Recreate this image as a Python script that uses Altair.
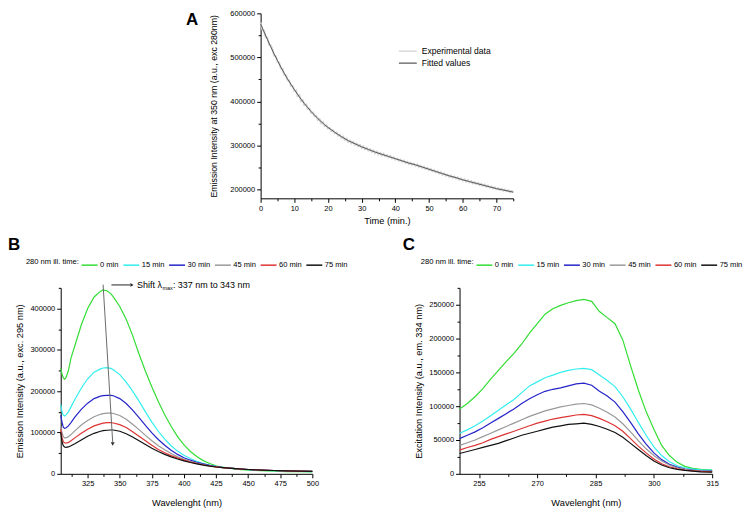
import altair as alt
import pandas as pd

FONT = "Liberation Sans"
TICK_FS = 7.5
TITLE_FS = 9.3

# ---------------- Panel A data (values in thousands) ----------------
fit_t = [0, 1, 2, 3, 4, 5, 6, 7, 8, 9, 10, 11, 12, 13, 14, 15, 16, 17, 18, 19, 20,
         22, 24, 26, 28, 30, 32, 34, 36, 38, 40, 42, 44, 46, 48, 50, 52, 54, 56, 58,
         60, 62, 64, 66, 68, 70, 72, 75]
fit_k = [576, 558, 541, 524, 508, 493, 478, 464, 451, 439, 427, 416, 405, 395, 386, 377,
         369, 361, 354, 347, 341, 330, 320, 311, 304, 297, 291, 285, 280, 275, 270, 265,
         260, 256, 251, 246, 241, 236, 231, 227, 222, 218, 214, 210, 206, 202, 199, 194]

exp_t = [i / 2 for i in range(151)]
exp_k = [579, 563, 561, 546, 544, 529, 527, 519, 504, 503,
         490, 488, 475, 474, 461, 460, 448, 447, 436, 435,
         424, 425, 412, 414, 401, 403, 392, 393, 383, 384,
         374, 375, 366, 367, 358, 360, 351, 353, 344.5, 346,
         338.5, 340, 333, 335, 327.5, 329.5, 322.5, 324.5, 317.5, 320,
         313, 315.5, 308.5, 311, 305, 308, 301.5, 304, 298, 301,
         294.5, 297.5, 291.5, 294.5, 288.5, 291.5, 285.5, 288.5, 282.5, 286,
         280, 283, 277.5, 281, 275.5, 278, 273, 276, 270.5, 273,
         268, 270.5, 265.5, 268, 263, 265.5, 260.5, 263, 258, 261,
         256, 259, 254, 256.5, 251.5, 254, 249, 251.5, 246.5, 249,
         244, 246.5, 241.5, 244, 239, 241.5, 236.5, 239, 234, 236.5,
         231.5, 234, 229, 232, 227, 229.5, 225, 227.5, 222.5, 225,
         220, 223, 218, 221, 216, 219, 214, 217, 212.5, 215,
         210.5, 213, 208.5, 211, 206.5, 209, 204.5, 207, 202.5, 205,
         200.5, 203, 199, 201.5, 197.5, 200, 196, 198.5, 194.5, 196.5,
         193]

# ---------------- Panels B and C (values in thousands) ----------------
series_labels = ["0 min", "15 min", "30 min", "45 min", "60 min", "75 min"]
series_colors = ["#33dd33", "#33eeee", "#2424c8", "#999999", "#dd3333", "#111111"]

B_wl = [304, 305, 306, 307, 308, 310, 312, 315, 320, 325, 330, 335, 337, 340, 343, 345,
        350, 355, 360, 365, 370, 375, 380, 385, 390, 395, 400, 405, 410, 415, 420, 425,
        430, 440, 450, 460, 470, 480, 490, 500]
B_0 = [255, 242, 232, 229, 232, 250, 280, 310, 360, 400, 428, 442, 445, 443, 436, 428,
       405, 374, 335, 290, 248, 210, 175, 143, 115, 90, 70, 54, 42, 32, 25, 19.5,
       16, 11.5, 9, 7.5, 6.5, 5.5, 5, 4.5]
B_15 = [168, 150, 142, 140, 142, 150, 162, 180, 207, 230, 246, 254, 256, 257, 255, 252,
        240, 222, 200, 176, 150, 125, 103, 84, 68, 55, 45, 37, 30, 25, 21, 18,
        15.5, 12.5, 10, 8.5, 7.5, 6.5, 6, 5.5]
B_30 = [142, 125, 113, 110, 111, 116, 124, 137, 156, 171, 182, 188, 189, 190, 190, 189,
        182, 170, 154, 136, 117, 99, 83, 69, 57, 47, 39, 33, 28, 24, 20.5, 17.5,
        15.5, 12.5, 10.5, 9, 8, 7, 6.5, 6]
B_45 = [115, 100, 90, 87, 87, 90, 95, 104, 118, 129, 138, 144, 145.5, 147, 147, 146,
        141, 132, 120, 107, 93, 80, 68, 58, 49, 41, 35, 30, 26, 22.5, 19.5, 17,
        15, 12.5, 10.5, 9, 8, 7, 6.5, 6]
B_60 = [108, 88, 78, 75, 74, 76, 80, 87, 98, 108, 116, 121, 122.5, 124, 124, 123,
        119, 112, 102, 91, 80, 69, 59, 51, 44, 38, 33, 28.5, 25, 22, 19, 17,
        15, 12.5, 10.5, 9, 8, 7, 6.5, 6]
B_75 = [100, 78, 68, 65, 64, 65, 68, 73, 82, 91, 98, 103, 104.5, 105.5, 106, 106,
        103, 97, 89, 80, 71, 62, 54, 47, 41, 36, 31.5, 27.5, 24, 21, 18.5, 16.5,
        15, 12.5, 10.5, 9, 8, 7, 6.5, 6]

C_wl = [250, 252, 254, 256, 258, 260, 262, 264, 266, 268, 270, 272, 274, 276, 278, 280,
        282, 284, 286, 288, 290, 292, 294, 296, 298, 300, 302, 304, 306, 308, 310, 312, 315]
C_0 = [96, 104, 114, 126, 140, 153, 166, 178, 192, 208, 222, 236, 244, 249, 253, 256,
       258, 255, 240, 231, 222, 198, 160, 124, 92, 66, 42, 27, 17, 11, 8, 6.5, 5.5]
C_15 = [60, 65, 71, 78, 86, 94, 102, 110, 120, 130, 136, 142, 146, 150, 153, 155,
        156, 154, 146, 138, 129, 114, 96, 76, 57, 40, 27, 18, 12, 9, 7, 6, 5.5]
C_30 = [52, 57, 62, 68, 75, 82, 89, 96, 104, 111, 117, 122, 125, 127, 130, 133,
        134, 131, 122, 115, 106, 92, 76, 59, 44, 31, 21, 14, 10, 7, 5.5, 4.5, 4]
C_45 = [42, 46, 50, 55, 60, 65, 70, 75, 80, 85, 89, 93, 96, 99, 101, 103,
        104, 102, 97, 91, 84, 74, 62, 49, 37, 27, 19, 13, 9, 6.5, 5, 4, 3.5]
C_60 = [35, 39, 42, 46, 51, 55, 59, 63, 67, 71, 75, 78, 81, 83, 85, 87,
        88, 86, 82, 77, 71, 63, 52, 41, 31, 22, 15, 10.5, 7.5, 5.5, 4.5, 3.5, 3]
C_75 = [30, 33, 36, 39, 42, 45, 49, 53, 57, 60, 63, 66, 69, 71, 73, 74,
        75, 73, 70, 66, 61, 54, 45, 36, 27, 19, 13, 9, 6.5, 5, 4, 3, 2.5]

# annotation in panel B (wavelength, intensity)
shift_arrow = {"wl": [337.0], "val": [458000], "wl2": [344.5], "val2": [76000]}
shift_head = {"wl": [344.5], "val": [72000]}
label_arrow = {"wl": [343.5], "val": [457000], "wl2": [358.0], "val2": [457000]}
label_head = {"wl": [359.5], "val": [457000]}
label_pos = {"wl": [363.5], "val": [457000]}


def make_axis(values, major_test, title, title_pad, title_fs=TITLE_FS):
    return alt.Axis(
        values=values,
        labelExpr=f"({major_test}) ? datum.label : ''",
        tickSize={"condition": {"test": major_test, "value": 4}, "value": 2.5},
        format="d", grid=False,
        domainColor="black", domainWidth=1, tickColor="black", tickWidth=1,
        labelFont=FONT, labelFontSize=TICK_FS, labelColor="black", labelPadding=2,
        labelOverlap=False, labelFlush=False,
        title=title, titleFont=FONT, titleFontSize=title_fs, titleFontWeight="normal",
        titleColor="black", titlePadding=title_pad)


def panel_title(letter, dx, offset, dy=0):
    return alt.TitleParams(letter, anchor="start", frame="group", dx=dx, dy=dy,
                           offset=offset, font=FONT, fontSize=17, fontWeight="bold",
                           color="black")


def series_legend(lx, ly):
    return alt.Legend(title="280 nm ill. time:", orient="none", legendX=lx, legendY=ly,
                      direction="horizontal", titleOrient="left",
                      symbolType="stroke", symbolSize=256, symbolStrokeWidth=1.5,
                      labelFont=FONT, labelFontSize=7.6, labelColor="black",
                      titleFont=FONT, titleFontSize=7.6, titleFontWeight="normal",
                      titleColor="black", columnPadding=1, labelOffset=1.5, titlePadding=1)


# ---------------- Panel A ----------------
dfA_exp = pd.DataFrame({"t": exp_t, "v": [k * 1000 for k in exp_k], "kind": "Experimental data"})
dfA_fit = pd.DataFrame({"t": fit_t, "v": [k * 1000 for k in fit_k], "kind": "Fitted values"})

xA = alt.X("t:Q", scale=alt.Scale(domain=[0, 75], nice=False, zero=False),
           axis=make_axis(list(range(0, 76, 5)), "datum.value % 10 === 0", "Time (min.)", 5))
yA = alt.Y("v:Q", scale=alt.Scale(domain=[180000, 600000], nice=False, zero=False),
           axis=make_axis(list(range(200000, 600001, 50000)), "datum.value % 100000 === 0",
                          "Emission Intensity at 350 nm (a.u., exc 280nm)", 11, 8.8))
colorA = alt.Color("kind:N",
                   scale=alt.Scale(domain=["Experimental data", "Fitted values"],
                                   range=["#d2d2d2", "#5a5a5a"]),
                   legend=alt.Legend(title=None, orient="none", legendX=138, legendY=33,
                                     symbolType="stroke", symbolSize=324, symbolStrokeWidth=1.2,
                                     clipHeight=10, rowPadding=2,
                                     labelFont=FONT, labelFontSize=8.6, labelColor="black",
                                     labelOffset=4))
expA = alt.Chart(dfA_exp).mark_line(strokeWidth=2).encode(x=xA, y=yA, color=colorA)
fitA = alt.Chart(dfA_fit).mark_line(strokeWidth=1).encode(x=xA, y=yA, color=colorA)
chartA = alt.layer(expA, fitA).properties(width=254, height=186,
                                          title=panel_title("A", -75, -20))

# ---------------- Panel B ----------------
rowsB = []
for lab, vals in zip(series_labels, [B_0, B_15, B_30, B_45, B_60, B_75]):
    for w, v in zip(B_wl, vals):
        rowsB.append({"wl": w, "val": v * 1000, "series": lab})
dfB = pd.DataFrame(rowsB)

xB_vals = [312.5, 325, 337.5, 350, 362.5, 375, 387.5, 400, 412.5, 425, 437.5, 450,
           462.5, 475, 487.5, 500]
xB_scale = alt.Scale(domain=[304, 500], nice=False, zero=False)
yB_scale = alt.Scale(domain=[0, 450000], nice=False)
xB_axis = make_axis(xB_vals, "datum.value % 25 === 0", "Wavelenght (nm)", 11)
yB_axis = make_axis(list(range(0, 450001, 50000)), "datum.value % 100000 === 0",
                    "Emission Intensity (a.u., exc. 295 nm)", 5)
xB = alt.X("wl:Q", scale=xB_scale, axis=xB_axis)
yB = alt.Y("val:Q", scale=yB_scale, axis=yB_axis)
linesB = alt.Chart(dfB).mark_line(strokeWidth=1.2).encode(
    x=xB, y=yB,
    color=alt.Color("series:N", sort=series_labels,
                    scale=alt.Scale(domain=series_labels, range=series_colors),
                    legend=series_legend(-35, -32)))

arrowB = alt.Chart(pd.DataFrame(shift_arrow)).mark_rule(color="#6a6a6a", strokeWidth=1).encode(
    x=xB, y=yB, x2="wl2:Q", y2="val2:Q")
headB = alt.Chart(pd.DataFrame(shift_head)).mark_point(
    shape="triangle-down", filled=True, size=16, color="#333333", opacity=1).encode(x=xB, y=yB)
arrow2B = alt.Chart(pd.DataFrame(label_arrow)).mark_rule(color="#222222", strokeWidth=1).encode(
    x=xB, y=yB, x2="wl2:Q", y2="val2:Q")
head2B = alt.Chart(pd.DataFrame(label_head)).mark_point(
    shape="triangle-right", filled=True, size=14, color="#222222", opacity=1).encode(x=xB, y=yB)
dfLab = pd.DataFrame(label_pos)
txt1 = alt.Chart(dfLab).mark_text(align="left", baseline="middle", font=FONT, fontSize=9,
                                  color="black").encode(x=xB, y=yB, text=alt.value("Shift λ"))
txt2 = alt.Chart(dfLab).mark_text(align="left", baseline="middle", font=FONT, fontSize=5.5,
                                  color="black", dx=25.5, dy=3.5).encode(
    x=xB, y=yB, text=alt.value("max"))
txt3 = alt.Chart(dfLab).mark_text(align="left", baseline="middle", font=FONT, fontSize=9,
                                  color="black", dx=36).encode(
    x=xB, y=yB, text=alt.value(": 337 nm to 343 nm"))

chartB = alt.layer(linesB, arrowB, headB, arrow2B, head2B, txt1, txt2, txt3).properties(
    width=253, height=187, title=panel_title("B", -53, 4, 2))

# ---------------- Panel C ----------------
rowsC = []
for lab, vals in zip(series_labels, [C_0, C_15, C_30, C_45, C_60, C_75]):
    for w, v in zip(C_wl, vals):
        rowsC.append({"wl": w, "val": v * 1000, "series": lab})
dfC = pd.DataFrame(rowsC)

xC_vals = [255, 262.5, 270, 277.5, 285, 292.5, 300, 307.5, 315]
xC = alt.X("wl:Q", scale=alt.Scale(domain=[250, 315], nice=False, zero=False),
           axis=make_axis(xC_vals, "(datum.value - 255) % 15 === 0", "Wavelenght (nm)", 11))
yC = alt.Y("val:Q", scale=alt.Scale(domain=[0, 275000], nice=False),
           axis=make_axis(list(range(0, 275001, 25000)), "datum.value % 50000 === 0",
                          "Excitation Intensity (a.u., em. 334 nm)", 5))
chartC = alt.Chart(dfC).mark_line(strokeWidth=1.2).encode(
    x=xC, y=yC,
    color=alt.Color("series:N", sort=series_labels,
                    scale=alt.Scale(domain=series_labels, range=series_colors),
                    legend=series_legend(-39, -32))).properties(
    width=254, height=187, title=panel_title("C", -57, 4, 2))

# ---------------- Layout (plot areas placed flush) ----------------
spacer = alt.Chart(pd.DataFrame({"s": [0]})).mark_point(opacity=0).encode(
    x=alt.X("s:Q", axis=None), y=alt.Y("s:Q", axis=None)).properties(width=201, height=186)

top = alt.hconcat(spacer, chartA, spacing=0, bounds="flush").resolve_scale(
    color="independent").resolve_legend(color="independent")
bottom = alt.hconcat(chartB, chartC, spacing=148, bounds="flush").resolve_scale(
    color="independent").resolve_legend(color="independent")

chart = alt.vconcat(top, bottom, spacing=276, bounds="flush").resolve_scale(
    color="independent").resolve_legend(color="independent").properties(
    padding=0).configure(font=FONT, background="white").configure_view(
    strokeWidth=0, strokeOpacity=0)

chart.save("out.html", embed_options={"renderer": "svg", "actions": False})
